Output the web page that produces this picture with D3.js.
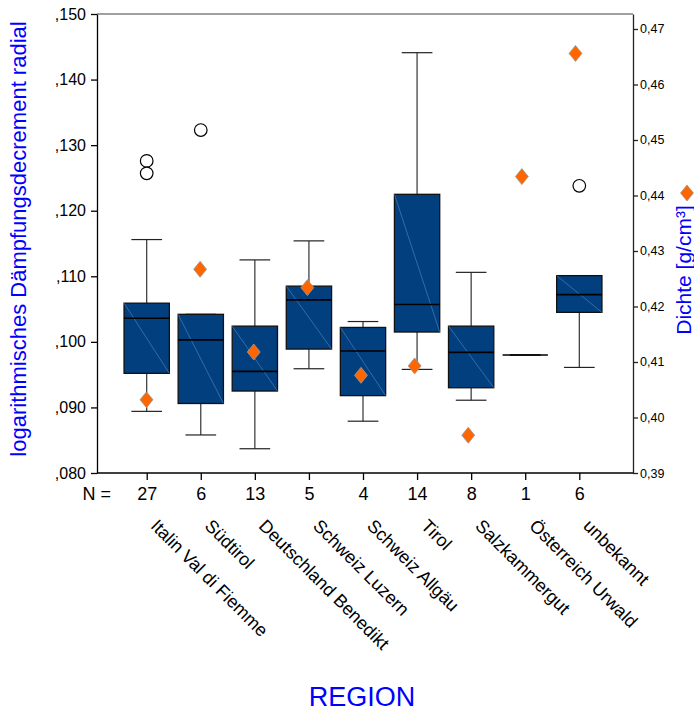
<!DOCTYPE html>
<html>
<head>
<meta charset="utf-8">
<script src="https://cdn.jsdelivr.net/npm/d3@7"></script>
<style>
  body { margin: 0; background: #fff; }
  text { font-family: "Liberation Sans", Arial, sans-serif; }
</style>
</head>
<body>
<svg id="main" width="694" height="711"></svg>
<script>
// values
const regions = ['Italin Val di Fiemme', 'Südtirol', 'Deutschland Benedikt', 'Schweiz Luzern',
  'Schweiz Allgäu', 'Tirol', 'Salzkammergut', 'Österreich Urwald', 'unbekannt'];
const counts = [27, 6, 13, 5, 4, 14, 8, 1, 6];
const lowerWhisker = [0.0894, 0.0858, 0.0837, 0.0959, 0.0879, 0.0958, 0.0911, 0.0980, 0.0961];
const q1 = [0.0952, 0.0906, 0.0925, 0.0989, 0.0918, 0.1015, 0.0930, 0.0980, 0.1045];
const median = [0.1036, 0.1003, 0.0955, 0.1064, 0.0986, 0.1057, 0.0984, 0.0980, 0.1072];
const q3 = [0.1059, 0.1042, 0.1024, 0.1085, 0.1022, 0.1225, 0.1024, 0.0980, 0.1101];
const upperWhisker = [0.1156, 0.1042, 0.1125, 0.1154, 0.1031, 0.1441, 0.1106, 0.0980, 0.1101];
const outliers = [[0.1276, 0.1257], [0.1323], [], [], [], [], [], [], [0.1238]];
const density = [0.4032, 0.4267, 0.4118, 0.4234, 0.4076, 0.4093, 0.3968, 0.4434, 0.4656];
const leftTicks = [0.08, 0.09, 0.10, 0.11, 0.12, 0.13, 0.14, 0.15];
const rightTicks = [0.39, 0.40, 0.41, 0.42, 0.43, 0.44, 0.45, 0.46, 0.47];

main();

function main() {
  let plot = { left: 97, right: 633, top: 14, bottom: 473 },
    boxW = 45.3,
    capW = 30.7,
    blue = '#0000ff';

  let svg = d3.select('#main');

  let y = d3.scaleLinear().domain([0.08, 0.15]).range([plot.bottom, plot.top]);
  let yR = d3.scaleLinear().domain([0.39, 0.4727]).range([plot.bottom, plot.top]);
  let x = d3.scalePoint().domain(regions).range([146.7, 579.3]);
  let xD = d3.scalePoint().domain(regions).range([146.5, 575.5]);

  let rows = regions.map((r, i) => ({
    region: r, n: counts[i], lo: lowerWhisker[i], q1: q1[i], med: median[i],
    q3: q3[i], hi: upperWhisker[i], out: outliers[i], dens: density[i]
  }));

  // frame
  svg.append('line')
    .attr('x1', plot.left).attr('x2', plot.right)
    .attr('y1', plot.top).attr('y2', plot.top)
    .attr('stroke', '#808080').attr('stroke-width', 1.5);
  svg.append('line')
    .attr('x1', plot.left).attr('x2', plot.right)
    .attr('y1', plot.bottom).attr('y2', plot.bottom)
    .attr('stroke', '#000').attr('stroke-width', 1.3);

  // left axis
  let gL = svg.append('g')
    .attr('transform', `translate(${plot.left},0)`)
    .call(d3.axisLeft(y).tickValues(leftTicks).tickSize(6).tickSizeOuter(0).tickPadding(5)
      .tickFormat(d => d3.format('.3f')(d).replace(/^0\./, ',')));
  gL.selectAll('text').attr('font-size', 16).attr('fill', '#000')
    .style('font-family', '"Liberation Sans", Arial, sans-serif');
  gL.selectAll('line, path').attr('stroke', '#000').attr('stroke-width', 1.3);

  // right axis
  let gR = svg.append('g')
    .attr('transform', `translate(${plot.right},0)`)
    .call(d3.axisRight(yR).tickValues(rightTicks).tickSize(5).tickSizeOuter(0).tickPadding(2)
      .tickFormat(d => d3.format('.2f')(d).replace('.', ',')));
  gR.selectAll('text').attr('font-size', 12.5).attr('fill', '#000')
    .style('font-family', '"Liberation Sans", Arial, sans-serif');
  gR.selectAll('line, path').attr('stroke', '#222').attr('stroke-width', 1.3);

  // bottom ticks with N
  let gB = svg.append('g')
    .attr('transform', `translate(0,${plot.bottom})`)
    .call(d3.axisBottom(x).tickSize(7).tickPadding(7).tickFormat((d, i) => counts[i]));
  gB.select('.domain').remove();
  gB.selectAll('text').attr('font-size', 18).attr('fill', '#000')
    .style('font-family', '"Liberation Sans", Arial, sans-serif');
  gB.selectAll('line').attr('stroke', '#000').attr('stroke-width', 1.3);

  svg.append('text')
    .attr('x', 111).attr('y', 500)
    .attr('text-anchor', 'end').attr('font-size', 18)
    .text('N =');

  // rotated category labels
  svg.append('g')
    .selectAll('text')
    .data(regions)
    .enter()
    .append('text')
    .attr('transform', d => `translate(${x(d) + 3},527) rotate(45)`)
    .attr('font-size', 18)
    .text(d => d);

  // boxes
  let box = svg.append('g')
    .selectAll('g')
    .data(rows)
    .enter()
    .append('g');

  box.append('line')
    .attr('x1', d => x(d.region)).attr('x2', d => x(d.region))
    .attr('y1', d => y(d.hi)).attr('y2', d => y(d.q3))
    .attr('stroke', '#333').attr('stroke-width', 1.2);
  box.append('line')
    .attr('x1', d => x(d.region)).attr('x2', d => x(d.region))
    .attr('y1', d => y(d.q1)).attr('y2', d => y(d.lo))
    .attr('stroke', '#333').attr('stroke-width', 1.2);
  box.selectAll('.cap')
    .data(d => [d.hi, d.lo].map(v => ({ region: d.region, v: v })))
    .enter()
    .append('line')
    .attr('class', 'cap')
    .attr('x1', d => x(d.region) - capW / 2).attr('x2', d => x(d.region) + capW / 2)
    .attr('y1', d => y(d.v)).attr('y2', d => y(d.v))
    .attr('stroke', '#222').attr('stroke-width', 1.2);

  box.append('rect')
    .attr('x', d => x(d.region) - boxW / 2)
    .attr('width', boxW)
    .attr('y', d => y(d.q3))
    .attr('height', d => y(d.q1) - y(d.q3))
    .attr('fill', '#023f7e')
    .attr('stroke', '#111').attr('stroke-width', 1.3);
  box.filter(d => d.q3 > d.q1).append('line')
    .attr('x1', d => x(d.region) - boxW / 2).attr('x2', d => x(d.region) + boxW / 2)
    .attr('y1', d => y(d.q3)).attr('y2', d => y(d.q1))
    .attr('stroke', '#5b88bb').attr('stroke-width', 0.6);
  box.append('line')
    .attr('x1', d => x(d.region) - boxW / 2).attr('x2', d => x(d.region) + boxW / 2)
    .attr('y1', d => y(d.med)).attr('y2', d => y(d.med))
    .attr('stroke', '#000').attr('stroke-width', 1.6);

  // outliers
  box.selectAll('circle')
    .data(d => d.out.map(v => ({ region: d.region, v: v })))
    .enter()
    .append('circle')
    .attr('cx', d => x(d.region))
    .attr('cy', d => y(d.v))
    .attr('r', 6.3)
    .attr('fill', '#fff')
    .attr('stroke', '#000').attr('stroke-width', 1.2);

  // density diamonds
  let diamond = {
    draw(ctx, size) {
      let h = Math.sqrt(size) / 2, w = h * 0.81;
      ctx.moveTo(0, -h); ctx.lineTo(w, 0); ctx.lineTo(0, h); ctx.lineTo(-w, 0); ctx.closePath();
    }
  };
  let sym = d3.symbol().type(diamond).size(256);

  svg.append('g')
    .selectAll('path')
    .data(rows)
    .enter()
    .append('path')
    .attr('transform', d => `translate(${xD(d.region)},${yR(d.dens)})`)
    .attr('d', sym)
    .attr('fill', '#ff6600')
    .attr('stroke', '#999').attr('stroke-width', 0.8);

  // legend marker for right axis
  svg.append('path')
    .attr('transform', 'translate(687,193)')
    .attr('d', sym)
    .attr('fill', '#ff6600')
    .attr('stroke', '#999').attr('stroke-width', 0.8);

  // axis titles
  svg.append('text')
    .attr('transform', 'translate(26,239) rotate(-90)')
    .attr('text-anchor', 'middle')
    .attr('font-size', 22)
    .attr('fill', blue)
    .text('logarithmisches Dämpfungsdecrement radial');

  svg.append('text')
    .attr('transform', 'translate(691,270) rotate(-90)')
    .attr('text-anchor', 'middle')
    .attr('font-size', 21)
    .attr('fill', blue)
    .text('Dichte [g/cm³]');

  svg.append('text')
    .attr('x', 362).attr('y', 706)
    .attr('text-anchor', 'middle')
    .attr('font-size', 27)
    .attr('fill', blue)
    .text('REGION');
}
</script>
</body>
</html>
